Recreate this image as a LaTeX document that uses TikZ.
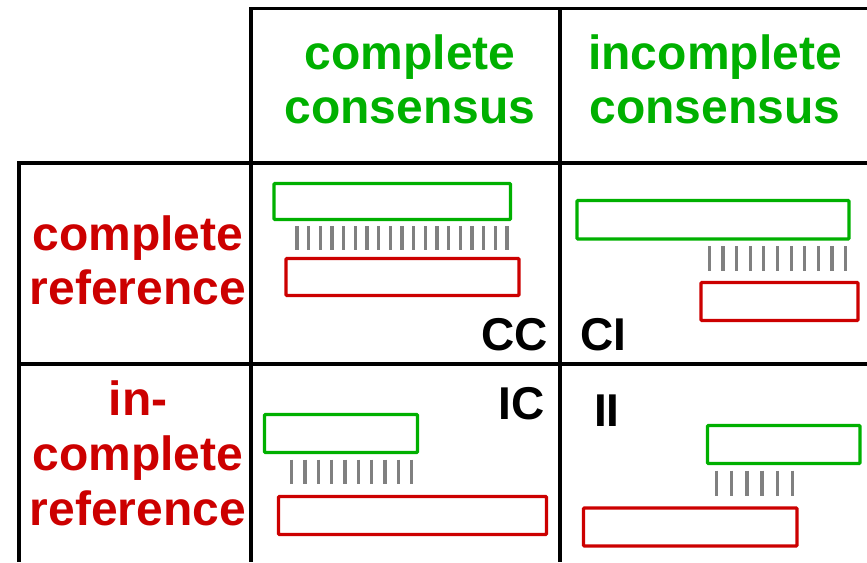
\documentclass[tikz,border=0pt]{standalone}
\usepackage{fontspec}
\setmainfont{Liberation Sans}
\definecolor{consgreen}{RGB}{0,176,0}
\definecolor{refred}{RGB}{204,0,0}
\definecolor{tickgray}{RGB}{128,128,128}
\begin{document}
\begin{tikzpicture}[x=1pt,y=-1pt,
  grid/.style={line width=3.3pt},
  head/.style={font=\fontsize{48}{54}\selectfont\bfseries, align=center, inner sep=0pt, anchor=base},
  conshead/.style={head, text=consgreen},
  refhead/.style={head, text=refred},
  celltag/.style={font=\fontsize{46}{50}\selectfont\bfseries, inner sep=0pt},
  consbox/.style={draw=consgreen, line width=3.4pt, rounded corners=1pt},
  refbox/.style={draw=refred, line width=3.4pt, rounded corners=1pt},
  match/.style={draw=tickgray, line width=3.2pt}]
\useasboundingbox (0,0) rectangle (867,562);

% table grid
\draw[grid] (867,8.5) -- (251,8.5) -- (251,562);
\draw[grid] (867,163) -- (19,163) -- (19,562);
\draw[grid] (19,364) -- (867,364);
\draw[grid] (560,8.5) -- (560,562);

% column headings
\node[conshead] (hcc) at (410,69.3) {complete};
\node[conshead] (hcc2) at (410,123) {consensus};
\node[conshead] (hic) at (715,69.3) {incomplete};
\node[conshead] (hic2) at (715,123) {consensus};

% row headings
\node[refhead] (rc) at (138,250) {complete};
\node[refhead] (rc2) at (138,304.3) {reference};
\node[refhead] (ri) at (138,415) {in-};
\node[refhead] (ri2) at (138,470) {complete};
\node[refhead] (ri3) at (138,525) {reference};

% CC: complete consensus, complete reference
\draw[consbox] (274,183.5) rectangle (510.5,219.5);
\foreach \i in {0,...,18} \draw[match] ({297+\i*11.67},226) -- ({297+\i*11.67},250);
\draw[refbox] (286,258.5) rectangle (519,295.5);
\node[celltag, anchor=base east] (tcc) at (548,350) {CC};

% CI: incomplete consensus, complete reference
\draw[consbox] (577,200.5) rectangle (849,239);
\foreach \i in {0,...,10} \draw[match] ({709.3+\i*13.64},246) -- ({709.3+\i*13.64},271);
\draw[refbox] (701,282.5) rectangle (858,320.5);
\node[celltag, anchor=base west] (tci) at (580,350) {CI};

% IC: complete consensus, incomplete reference
\draw[consbox] (264.5,414.5) rectangle (417.5,452.5);
\foreach \i in {0,...,9} \draw[match] ({291.7+\i*13.33},459.5) -- ({291.7+\i*13.33},484);
\draw[refbox] (278.5,496.5) rectangle (546.5,534.5);
\node[celltag, anchor=base east] (tic) at (545,419.5) {IC};

% II: incomplete consensus, incomplete reference
\draw[consbox] (707.5,425.5) rectangle (860,463.5);
\foreach \i in {0,...,5} \draw[match] ({716.7+\i*15.12},470.5) -- ({716.7+\i*15.12},495.5);
\draw[refbox] (583.5,508) rectangle (797,546);
\node[celltag, anchor=base west] (tii) at (594,426) {II};
\end{tikzpicture}
\end{document}
